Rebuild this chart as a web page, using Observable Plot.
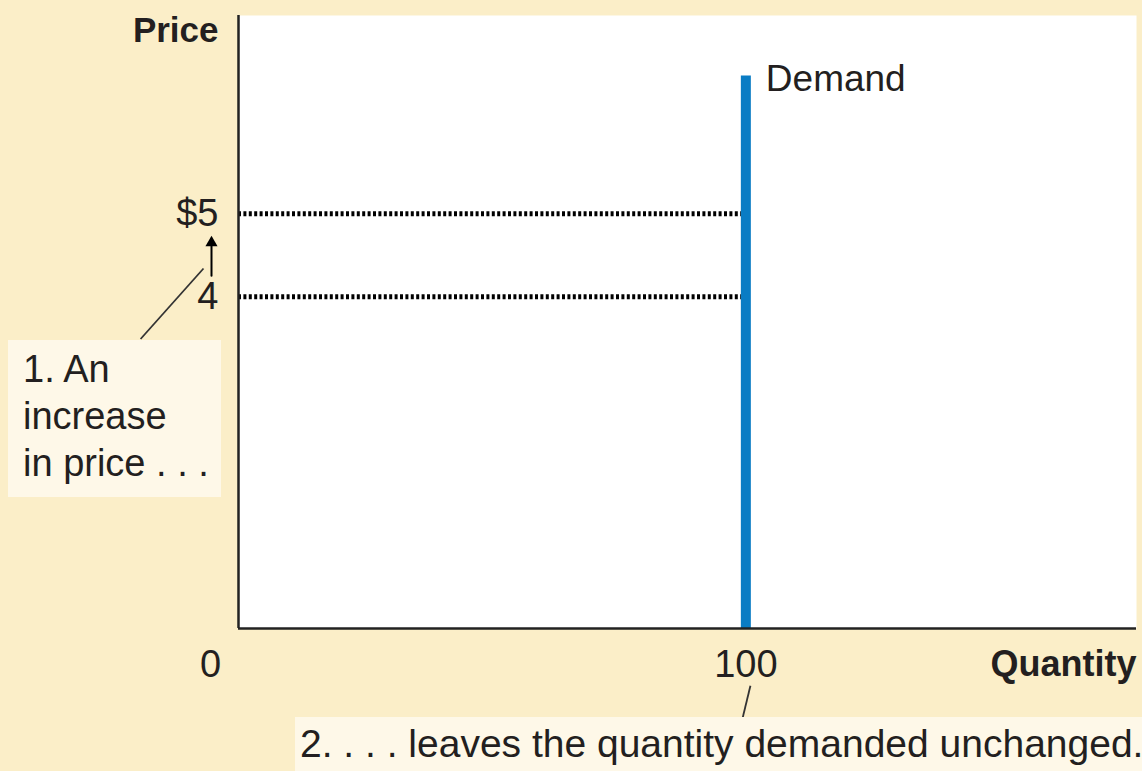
<!DOCTYPE html>
<html><head><meta charset="utf-8">
<script src="https://cdn.jsdelivr.net/npm/d3@7"></script>
<script src="https://cdn.jsdelivr.net/npm/@observablehq/plot@0.6"></script>
<style>
html,body{margin:0;padding:0;background:#fbeec8;width:1142px;height:771px;overflow:hidden;font-family:"Liberation Sans",Arial,sans-serif;color:#231f20;}
#wrap{position:relative;width:1142px;height:771px;}
#chart svg{display:block;}
.note{position:absolute;background:#fef8e8;box-sizing:border-box;white-space:nowrap;}
#note1{left:8px;top:340px;width:213px;height:157px;padding:6px 0 0 15px;line-height:47px;font-size:38px;}
#note2{left:295px;top:717px;width:847px;height:54px;padding:0 0 0 5px;line-height:54px;font-size:39px;}
</style>
</head><body>
<div id="wrap"><div id="chart"></div>
<div class="note" id="note1"></div>
<div class="note" id="note2"></div>
</div>
<script>
// ---- data ----
const quantityDemanded = 100;          // perfectly inelastic demand
const prices = [4, 5];                 // price before / after
const priceLabels = ["4", "$5"];
const demandTop = 6.66;                // top of the drawn demand line
const xDomain = [0, 177];
const yDomain = [0, 7.39];
const axisTitles = ["Price", "Quantity"];
const curveLabel = "Demand";
const note1Lines = ["1. An", "increase", "in price . . ."];
const note2Text = "2. . . . leaves the quantity demanded unchanged.";
// leader-line anchors, in data units
const leaders = [
  {x1: -6.9, y1: 4.34, x2: -19.3, y2: 3.49},
  {x1: 100.9, y1: -0.69, x2: 99.4, y2: -1.07}
];

const ink = "#231f20";
const font = '"Liberation Sans", Arial, sans-serif';

const chart = Plot.plot({
  width: 1142, height: 717,
  marginLeft: 238, marginRight: 6, marginTop: 15, marginBottom: 89,
  x: {domain: xDomain},
  y: {domain: yDomain},
  style: {background: "transparent", fontFamily: font, color: ink, overflow: "visible"},
  marks: [
    Plot.frame({fill: "white", stroke: null}),
    Plot.ruleY(prices, {y: d => d, x1: 0, x2: quantityDemanded, stroke: "#000", strokeWidth: 5, strokeDasharray: "3,2.4"}),
    Plot.ruleX([quantityDemanded], {y1: 0, y2: demandTop, stroke: "#0a7cc4", strokeWidth: 10}),
    Plot.ruleX([0], {stroke: "#222", strokeWidth: 2.5}),
    Plot.ruleY([0], {stroke: "#222", strokeWidth: 2.5}),
    Plot.axisY(prices, {tickSize: 0, tickPadding: 20, fontSize: 38, label: null,
      tickFormat: d => priceLabels[prices.indexOf(d)]}),
    Plot.axisX([quantityDemanded], {tickSize: 0, tickPadding: 22, fontSize: 38, label: null}),
    Plot.axisX([0], {tickSize: 0, tickPadding: 22, fontSize: 38, label: null, dx: -28}),
    Plot.text([axisTitles[0]], {frameAnchor: "top-left", textAnchor: "end", lineAnchor: "top", dx: -20, dy: 2, fontSize: 35, fontWeight: "bold"}),
    Plot.text([axisTitles[1]], {frameAnchor: "bottom-right", textAnchor: "end", lineAnchor: "top", dy: 22, fontSize: 36, fontWeight: "bold"}),
    Plot.text([curveLabel], {x: quantityDemanded, y: demandTop, dx: 20, textAnchor: "start", lineAnchor: "top", dy: -11, fontSize: 37}),
    Plot.arrow([{x: 0, a: prices[0], b: prices[1]}], {x1: "x", x2: "x", y1: "a", y2: "b", dx: -27, insetStart: 21, insetEnd: 30, headLength: 0, strokeWidth: 2, stroke: "#000", clip: false}),
    Plot.dot([{x: 0, y: prices[1]}], {x: "x", y: "y", dx: -27, dy: 29, symbol: "triangle", r: 4.5, fill: "#000", stroke: null}),
    Plot.link(leaders, {x1: "x1", y1: "y1", x2: "x2", y2: "y2", stroke: "#333", strokeWidth: 1.8, clip: false})
  ]
});
document.getElementById("chart").appendChild(chart);
document.getElementById("note1").innerHTML = note1Lines.join("<br>");
document.getElementById("note2").textContent = note2Text;
</script>
</body></html>
